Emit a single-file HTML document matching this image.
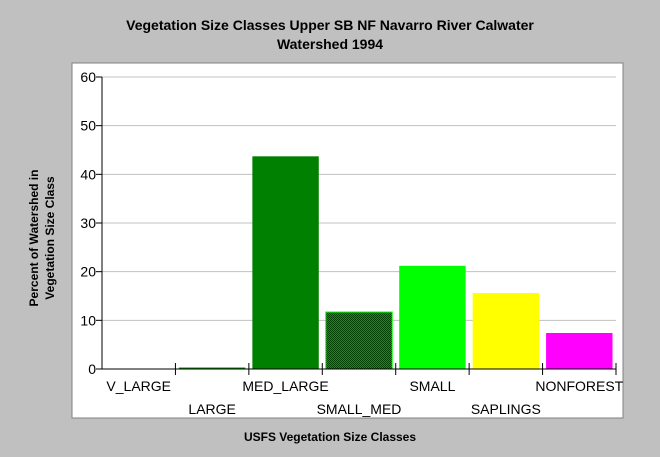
<!DOCTYPE html>
<html><head><meta charset="utf-8"><style>
body{margin:0;background:#c0c0c0;}
svg{display:block;font-family:"Liberation Sans",Arial,sans-serif;}
</style></head><body>
<svg width="660" height="457">
<defs>
<pattern id="chk" width="2" height="2" patternUnits="userSpaceOnUse">
<rect width="2" height="2" fill="#00a000"/><rect width="1" height="1" fill="#004000"/><rect x="1" y="1" width="1" height="1" fill="#004000"/>
</pattern>
</defs>
<rect width="660" height="457" fill="#c0c0c0"/>
<text x="330" y="30" text-anchor="middle" font-weight="bold" font-size="14">Vegetation Size Classes Upper SB NF Navarro River Calwater</text>
<text x="330" y="49" text-anchor="middle" font-weight="bold" font-size="14">Watershed 1994</text>
<rect x="72" y="63" width="551" height="355" fill="#fff" stroke="#808080" stroke-width="1"/>
<g id="grid"></g><g id="bars"></g><g id="axes"></g>
<text transform="translate(38,238) rotate(-90)" text-anchor="middle" font-weight="bold" font-size="12">Percent of Watershed in</text>
<text transform="translate(54,238) rotate(-90)" text-anchor="middle" font-weight="bold" font-size="12">Vegetation Size Class</text>
<text x="330" y="441" text-anchor="middle" font-weight="bold" font-size="12">USFS Vegetation Size Classes</text>
</svg>
<script>
const categories=["V_LARGE","LARGE","MED_LARGE","SMALL_MED","SMALL","SAPLINGS","NONFOREST"];
const values=[0,0.3,43.7,11.7,21.2,15.6,7.4];
const colors=["#008000","#008000","#008000","url(#chk)","#00ff00","#ffff00","#ff00ff"];
const yTicks=[0,10,20,30,40,50,60];
const NS="http://www.w3.org/2000/svg";
const x0=102,x1=616,y0=369,yTop=77,yMax=60;
const bw=(x1-x0)/categories.length;
const ys=v=>y0-(v/yMax)*(y0-yTop);
function mk(t,a,p){const e=document.createElementNS(NS,t);for(const k in a)e.setAttribute(k,a[k]);p.appendChild(e);return e;}
const g=document.getElementById('grid'),b=document.getElementById('bars'),ax=document.getElementById('axes');
yTicks.forEach(v=>{
 if(v>0){const l=mk('line',{x1:x0,x2:x1,y1:ys(v),y2:ys(v),stroke:'#c0c0c0'},g);
 
 }
 const t=mk('line',{x1:x0-6,x2:x0,y1:ys(v),y2:ys(v),stroke:'#000'},ax);
 
 
 const tx=mk('text',{x:x0-6,y:ys(v)+5,'text-anchor':'end','font-size':'14'},ax);tx.textContent=v;
 
 
});
categories.forEach((c,i)=>{
 const left=x0+i*bw;
 if(values[i]>0){const h=y0-ys(values[i]);
 const r=mk('rect',{x:left+3.5,y:ys(values[i]),width:bw-7,height:Math.max(h,1),fill:colors[i]},b);
 if(i===3){r.setAttribute('stroke','#00ff00');r.setAttribute('stroke-width','1');}
 
 }
 const t=mk('line',{x1:left+bw,x2:left+bw,y1:y0-6,y2:y0+6,stroke:'#000'},ax);
 
 
 const tx=mk('text',{x:left+bw/2,y:i%2===0?y0+22:y0+45,'text-anchor':'middle','font-size':'14'},ax);tx.textContent=c;
 
 
});
const ya=mk('line',{x1:x0,x2:x0,y1:yTop,y2:y0,stroke:'#000'},ax);


const xa=mk('line',{x1:x0,x2:x1,y1:y0,y2:y0,stroke:'#000'},ax);


</script>
</body></html>
